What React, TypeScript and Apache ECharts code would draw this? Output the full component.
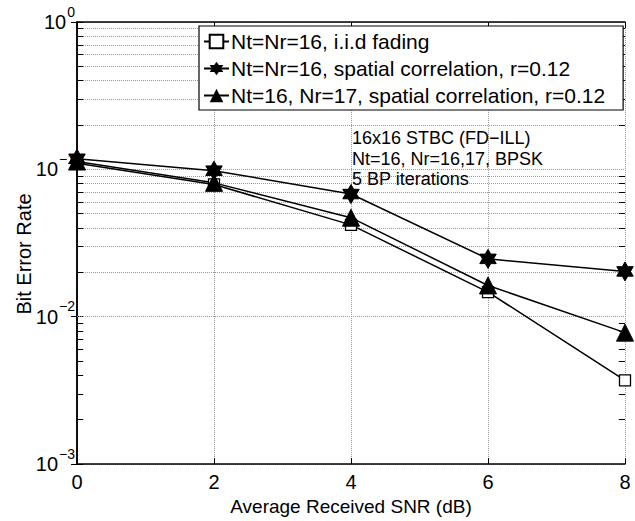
import React, { useEffect, useRef } from 'react';
import * as echarts from 'echarts';

const snrDb = [0, 2, 4, 6, 8];
const berIid = [0.11, 0.079, 0.042, 0.0147, 0.0037];
const berCorr16 = [0.118, 0.098, 0.068, 0.0247, 0.0203];
const berCorr17 = [0.113, 0.081, 0.047, 0.0163, 0.0078];
const seriesNames = [
  'Nt=Nr=16, i.i.d fading',
  'Nt=Nr=16, spatial correlation, r=0.12',
  'Nt=16, Nr=17, spatial correlation, r=0.12',
];
const annotationLines = ['16x16 STBC (FD\u2212ILL)', 'Nt=16, Nr=16,17, BPSK', '5 BP iterations'];
const yAxisTitle = 'Bit Error Rate';
const xAxisTitle = 'Average Received SNR (dB)';
const minorGridValues = [
  0.002, 0.003, 0.004, 0.005, 0.006, 0.007, 0.008, 0.009,
  0.02, 0.03, 0.04, 0.05, 0.06, 0.07, 0.08, 0.09,
  0.2, 0.3, 0.4, 0.5, 0.6, 0.7, 0.8, 0.9,
];

const FONT = '"Liberation Sans", Arial, Helvetica, sans-serif';
const HEXAGRAM =
  'path://M0,-100L28.9,-50L86.6,-50L57.7,0L86.6,50L28.9,50L0,100L-28.9,50L-86.6,50L-57.7,0L-86.6,-50L-28.9,-50Z';

const pairs = (ys: number[]) => snrDb.map((x, i) => [x, ys[i]]);

export default function App() {
  const ref = useRef<HTMLDivElement>(null);
  useEffect(() => {
    if (!ref.current) return;
    const chart = echarts.init(ref.current, undefined, { renderer: 'svg' });
    const gridDot = { type: 'dotted' as const, color: '#999', width: 1 };
    const minorLines: any[] = [];
    minorGridValues.forEach((v) => {
      minorLines.push({ yAxis: v, lineStyle: gridDot });
      minorLines.push([{ coord: [0, v] }, { coord: [0.09, v] }]);
      minorLines.push([{ coord: [7.91, v] }, { coord: [8, v] }]);
    });
    const lineBase = {
      type: 'line' as const,
      xAxisIndex: 0,
      yAxisIndex: 0,
      lineStyle: { color: '#000', width: 1.5 },
      itemStyle: { color: '#000', borderColor: '#000' },
      z: 3,
    };
    chart.setOption({
      animation: false,
      backgroundColor: '#fff',
      textStyle: { fontFamily: FONT },
      grid: { left: 77, right: 10, top: 22, bottom: 50, containLabel: false },
      xAxis: [
        {
          type: 'value',
          min: 0,
          max: 8,
          interval: 2,
          name: xAxisTitle,
          nameLocation: 'middle',
          nameGap: 32,
          nameTextStyle: { fontSize: 19, color: '#000', fontFamily: FONT },
          axisLine: { lineStyle: { color: '#000', width: 1.5 } },
          axisTick: { inside: true, length: 6, lineStyle: { color: '#000' } },
          axisLabel: { fontSize: 20, color: '#000', margin: 8, fontFamily: FONT },
          splitLine: { show: true, lineStyle: gridDot },
        },
        {
          type: 'value',
          position: 'top',
          min: 0,
          max: 8,
          interval: 2,
          axisLine: { show: true, lineStyle: { color: '#000', width: 1.5 } },
          axisTick: { show: true, inside: true, length: 6, lineStyle: { color: '#000' } },
          axisLabel: { show: false },
          splitLine: { show: false },
        },
      ],
      yAxis: [
        {
          type: 'log',
          logBase: 10,
          min: 0.001,
          max: 1,
          axisLine: { show: true, lineStyle: { color: '#000', width: 1.5 } },
          axisTick: { show: true, inside: true, length: 6, lineStyle: { color: '#000' } },
          axisLabel: {
            margin: 2,
            formatter: (v: number) => {
              const e = Math.round(Math.log10(v));
              return `{b|10}{s|${e === 0 ? '0' : '\u2212' + -e}}`;
            },
            rich: {
              b: { fontSize: 20, color: '#000', fontFamily: FONT },
              s: { fontSize: 14, color: '#000', fontFamily: FONT, padding: [0, 0, 21, 1] },
            },
          },
          splitLine: { show: true, lineStyle: gridDot },
        },
        {
          type: 'log',
          logBase: 10,
          min: 0.001,
          max: 1,
          position: 'right',
          axisLine: { show: true, lineStyle: { color: '#000', width: 1.5 } },
          axisTick: { show: true, inside: true, length: 6, lineStyle: { color: '#000' } },
          axisLabel: { show: false },
          splitLine: { show: false },
        },
      ],
      legend: {
        orient: 'vertical',
        left: 199,
        top: 26,
        backgroundColor: '#fff',
        borderColor: '#000',
        borderWidth: 1.2,
        padding: [5, 18, 4, 4],
        itemGap: 6,
        itemWidth: 25,
        itemHeight: 17,
        textStyle: { fontSize: 21, color: '#000', fontFamily: FONT, padding: [0, 0, 0, -3] },
        data: seriesNames,
        z: 10,
      },
      graphic: [
        {
          type: 'text',
          left: 352,
          top: 128,
          z: 5,
          style: {
            text: annotationLines.join('\n'),
            fontSize: 18,
            lineHeight: 20.5,
            fontFamily: FONT,
            fill: '#000',
          },
        },
        {
          type: 'text',
          x: 24,
          y: 254,
          rotation: Math.PI / 2,
          z: 5,
          style: {
            text: yAxisTitle,
            fontSize: 20,
            fontFamily: FONT,
            fill: '#000',
            align: 'center',
            verticalAlign: 'middle',
          },
        },
      ],
      series: [
        {
          ...lineBase,
          name: seriesNames[0],
          data: pairs(berIid),
          symbol: 'rect',
          symbolSize: 11,
          itemStyle: { color: '#fff', borderColor: '#000', borderWidth: 1.3 },
          markLine: {
            silent: true,
            symbol: ['none', 'none'],
            label: { show: false },
            lineStyle: { color: '#000', width: 1, type: 'solid' },
            data: minorLines,
            z: 1,
          },
        },
        {
          ...lineBase,
          name: seriesNames[1],
          data: pairs(berCorr16),
          symbol: HEXAGRAM,
          symbolKeepAspect: true,
          symbolSize: 19,
        },
        {
          ...lineBase,
          name: seriesNames[2],
          data: pairs(berCorr17),
          symbol: 'triangle',
          symbolSize: 17,
        },
      ],
    });
    return () => chart.dispose();
  }, []);
  return <div ref={ref} style={{ width: 635, height: 521, position: 'absolute', left: 0, top: 0 }} />;
}
